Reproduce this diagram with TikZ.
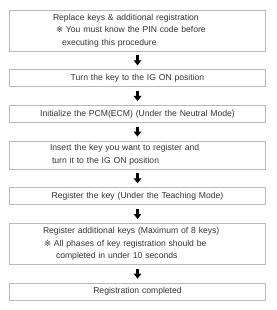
\documentclass[tikz,border=0pt]{standalone}
\usepackage{fontspec}
\setmainfont{Liberation Sans}
\newfontfamily\markfont{DejaVu Sans}
\usetikzlibrary{arrows.meta}
\newcommand{\refmark}{{\markfont\fontsize{8.5}{12}\selectfont ※}}

\begin{document}
\begin{tikzpicture}[x=1pt,y=-1pt,
  stepbox/.style={draw=gray!55,line width=0.8pt,minimum width=256pt,inner sep=0pt,
    text width=256pt,font=\fontsize{8.6}{12.5}\selectfont,text=black!80},
  flow/.style={-{Triangle[length=5pt,width=7.5pt]},line width=2.2pt,
    shorten <=4pt,shorten >=4pt}]
  \useasboundingbox (0,0) rectangle (276,310);
  % the steps, top to bottom
  \node[stepbox,minimum height=41pt,align=left] (replace) at (137.5,30.5)
    {\hspace*{43.5pt}Replace keys \& additional registration\\
     \hspace*{46.5pt}\refmark{} You must know the PIN code before\\
     \hspace*{52.5pt}executing this procedure};
  \node[stepbox,minimum height=17pt,align=center] (turnon) at (137.5,78.2)
    {Turn the key to the IG ON position};
  \node[stepbox,minimum height=17pt,align=center] (init) at (137.5,113.9)
    {Initialize the PCM(ECM) (Under the Neutral Mode)};
  \node[stepbox,minimum height=28pt,align=left] (insert) at (137.5,155)
    {\hspace*{40.5pt}Insert the key you want to register and\\
     \hspace*{42.5pt}turn it to the IG ON position};
  \node[stepbox,minimum height=17pt,align=center] (teach) at (137.5,196.2)
    {Register the key (Under the Teaching Mode)};
  \node[stepbox,minimum height=41pt,align=left] (extra) at (137.5,243.9)
    {\hspace*{33.5pt}Register additional keys (Maximum of 8 keys)\\
     \hspace*{34.5pt}\refmark{} All phases of key registration should be\\
     \hspace*{46.5pt}completed in under 10 seconds};
  \node[stepbox,minimum height=17pt,align=center] (done) at (137.5,291.5)
    {Registration completed};
  % arrows between the steps
  \foreach \a/\b in {replace/turnon,turnon/init,init/insert,insert/teach,teach/extra,extra/done}
    \draw[flow] (\a.south) -- (\b.north);
\end{tikzpicture}
\end{document}
